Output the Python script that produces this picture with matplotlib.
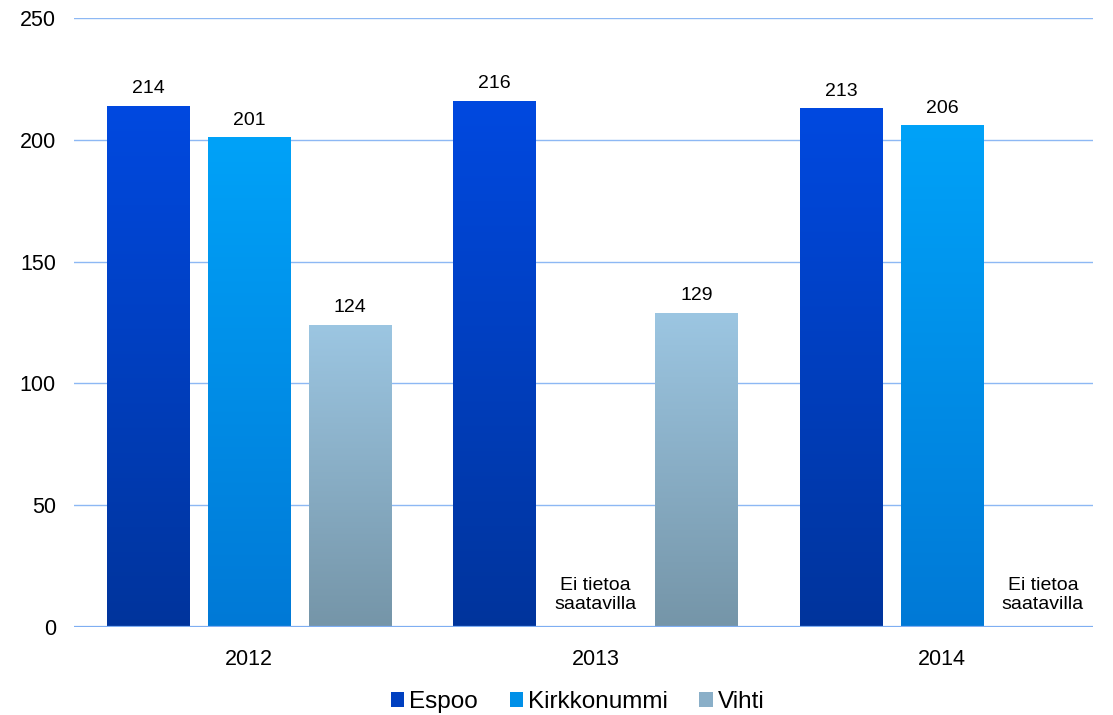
import numpy as np
import matplotlib.pyplot as plt
from matplotlib.colors import LinearSegmentedColormap
from matplotlib.patches import Patch

plt.rcParams['font.family'] = ['Liberation Sans', 'DejaVu Sans']

years = ["2012", "2013", "2014"]
series = ["Espoo", "Kirkkonummi", "Vihti"]
values = {
    "Espoo": [214, 216, 213],
    "Kirkkonummi": [201, None, 206],
    "Vihti": [124, 129, None],
}
missing_text = "Ei tietoa\nsaatavilla"

# top / bottom colours of each gradient
grad = {
    "Espoo": ("#0049E0", "#00349C"),
    "Kirkkonummi": ("#00A2F8", "#0079D6"),
    "Vihti": ("#9CC6E2", "#7595A8"),
}
legend_col = {"Espoo": "#0040C0", "Kirkkonummi": "#0090E8", "Vihti": "#8AAFC8"}

fig = plt.figure(figsize=(11.13, 7.15), dpi=100)
ax = fig.add_axes([74 / 1113, (715 - 627) / 715, 1019 / 1113, 609 / 715])

width = 0.237
step = 0.2915
x = np.arange(len(years))

for i, name in enumerate(series):
    cmap = LinearSegmentedColormap.from_list(name, [grad[name][1], grad[name][0]])
    for j, v in enumerate(values[name]):
        xc = x[j] + (i - 1) * step
        if v is None:
            ax.text(xc, 13, missing_text, ha="center", va="center",
                    fontsize=14, linespacing=1.15)
            continue
        bar = ax.bar(xc, v, width, color="none", edgecolor="none", zorder=3)[0]
        g = np.linspace(0, 1, 256).reshape(-1, 1)
        im = ax.imshow(g, cmap=cmap, origin="lower", aspect="auto",
                       extent=(xc - width / 2, xc + width / 2, 0, v), zorder=3)
        im.set_clip_path(bar)
        ax.text(xc, v + 3.5, str(v), ha="center", va="bottom", fontsize=14)

ax.set_xlim(-0.505, 2.436)
ax.set_ylim(0, 250)
ax.set_yticks(range(0, 251, 50))
ax.set_xticks(x)
ax.set_xticklabels(years)
ax.tick_params(axis="both", length=0, labelsize=15.5)
ax.tick_params(axis="y", pad=13)
ax.tick_params(axis="x", pad=16)
ax.grid(axis="y", color="#8DB8F4", linewidth=1.0, zorder=0)
for s in ax.spines.values():
    s.set_visible(False)
ax.axhline(0, color="#7FAEF2", linewidth=1.6, zorder=4)

handles = [Patch(facecolor=legend_col[n], label=n) for n in series]
fig.legend(handles=handles, loc="lower center", bbox_to_anchor=(0.519, -0.028),
           ncol=3, frameon=False, fontsize=17.5, handlelength=0.55,
           handleheight=0.55, handletextpad=0.2, columnspacing=1.3)

fig.savefig("out.png", dpi=100)
